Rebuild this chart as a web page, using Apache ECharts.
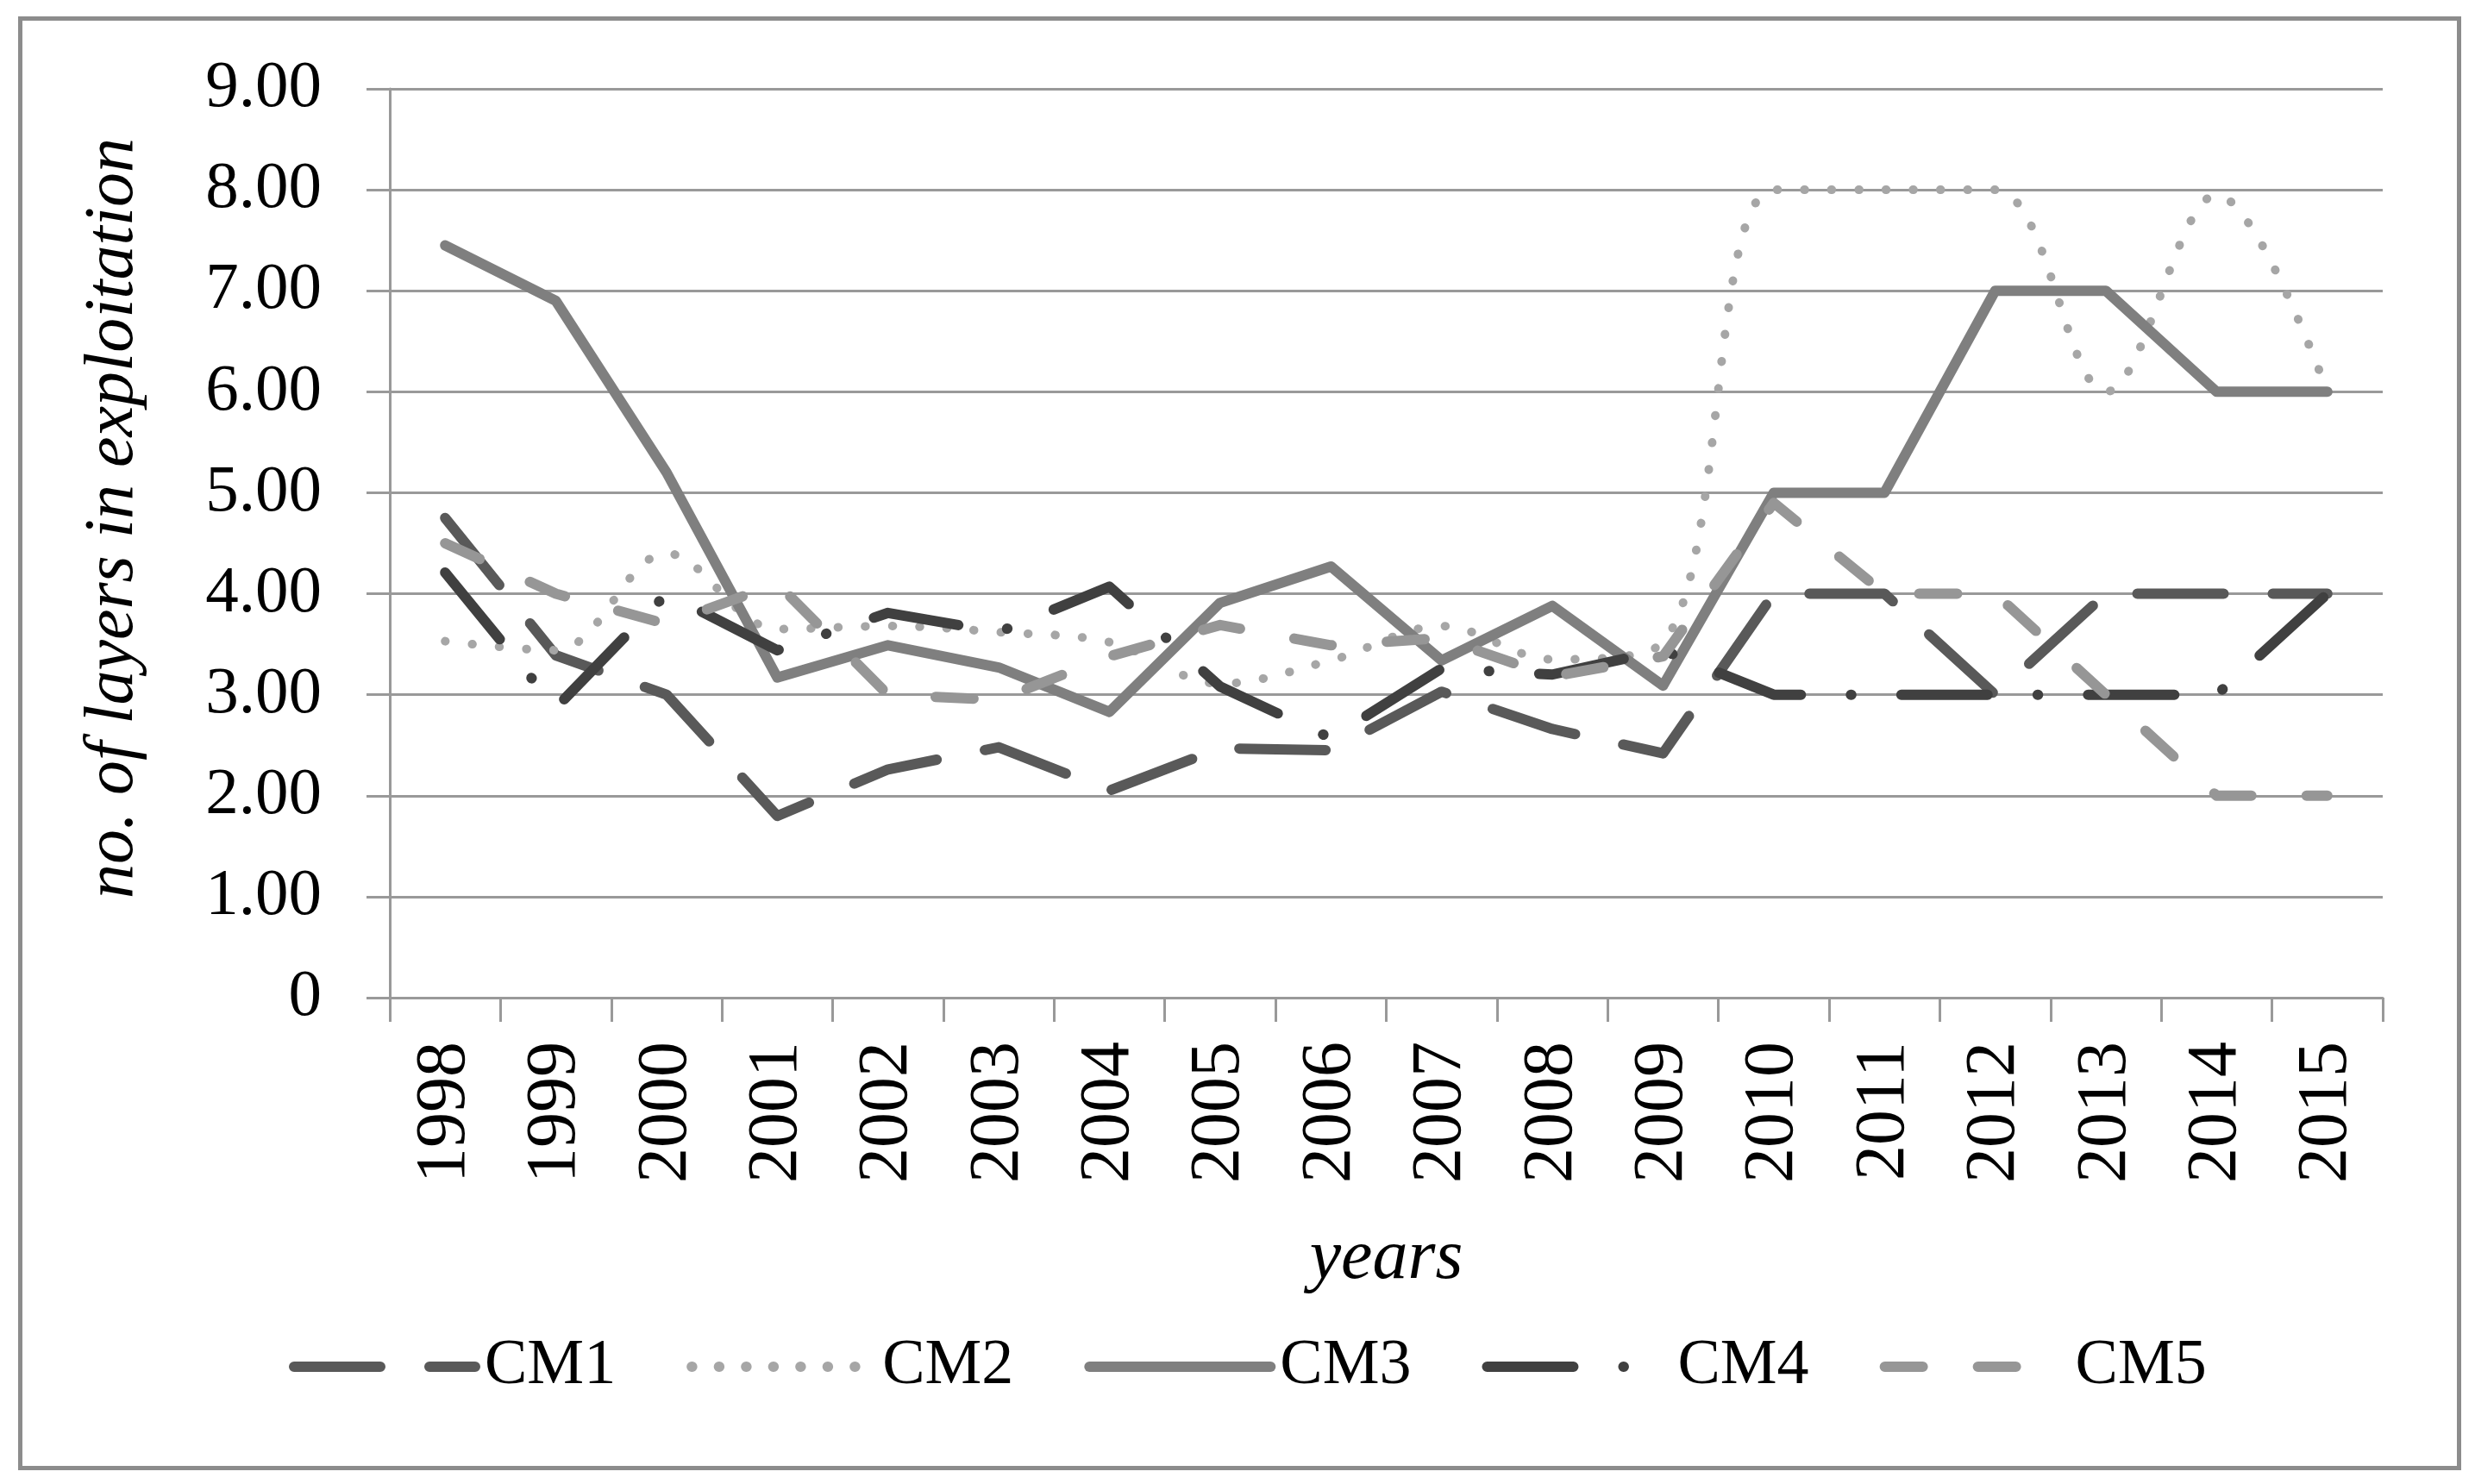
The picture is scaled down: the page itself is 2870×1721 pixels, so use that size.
<!DOCTYPE html>
<html>
<head>
<meta charset="utf-8">
<script src="https://cdn.jsdelivr.net/npm/echarts@6/dist/echarts.min.js"></script>
<style>
html,body{margin:0;padding:0;background:#fff;}
#chart{width:2870px;height:1721px;}
</style>
</head>
<body>
<div id="chart"></div>
<script>
const years = ['1998','1999','2000','2001','2002','2003','2004','2005','2006','2007','2008','2009','2010','2011','2012','2013','2014','2015'];
const cm1 = [4.75, 3.39, 3.00, 1.80, 2.26, 2.48, 2.05, 2.47, 2.45, 3.03, 2.66, 2.42, 4.00, 4.00, 3.00, 4.00, 4.00, 4.00];
const cm2 = [3.53, 3.44, 4.40, 3.65, 3.68, 3.62, 3.52, 3.11, 3.34, 3.68, 3.35, 3.52, 8.00, 8.00, 8.00, 6.00, 7.95, 6.00];
const cm3 = [7.45, 6.90, 5.20, 3.17, 3.49, 3.27, 2.83, 3.91, 4.27, 3.34, 3.88, 3.09, 5.00, 5.00, 7.00, 7.00, 6.00, 6.00];
const cm4 = [4.21, 2.87, 4.00, 3.44, 3.81, 3.62, 4.07, 3.08, 2.57, 3.26, 3.20, 3.44, 3.00, 3.00, 3.00, 3.00, 3.00, 4.00];
const cm5 = [4.50, 4.00, 3.70, 4.10, 3.00, 2.95, 3.38, 3.69, 3.49, 3.56, 3.18, 3.38, 4.90, 4.00, 4.00, 3.00, 2.00, 2.00];
const yTickLabels = ['0','1.00','2.00','3.00','4.00','5.00','6.00','7.00','8.00','9.00'];
const seriesNames = ['CM1','CM2','CM3','CM4','CM5'];

const FONT = '"Liberation Serif", "DejaVu Serif", serif';
const chart = echarts.init(document.getElementById('chart'), null, {renderer:'canvas'});

function mk(name, data, color, width, dash, smooth) {
  return {
    name: name, type: 'line', data: data, symbol: 'none', smooth: smooth || false,
    lineStyle: { color: color, width: width, type: dash, cap: 'round', join: 'round' },
    itemStyle: { color: color },
    emphasis: { disabled: true },
    animation: false
  };
}

chart.setOption({
  backgroundColor: '#ffffff',
  animation: false,
  graphic: [{
    type: 'rect', left: 21, top: 19, z: -1,
    shape: { width: 2828, height: 1681 },
    style: { fill: 'none', stroke: '#8c8c8c', lineWidth: 5 }
  }],
  grid: { left: 452, right: 107, top: 103, bottom: 564, containLabel: false },
  legend: {
    left: 330, top: 1543,
    itemWidth: 210, itemHeight: 28, itemGap: 82,
    data: seriesNames,
    itemStyle: { opacity: 0 },
    lineStyle: { width: 12, cap: 'round' },
    textStyle: { fontFamily: FONT, fontSize: 74, color: '#000', padding: [0,0,0,6] },
    selectedMode: false
  },
  xAxis: {
    type: 'category', data: years, boundaryGap: true,
    name: 'years', nameLocation: 'middle', nameGap: 262,
    nameTextStyle: { fontFamily: FONT, fontSize: 82, fontStyle: 'italic', color: '#000' },
    axisLine: { show: true, lineStyle: { color: '#999999', width: 3 } },
    axisTick: { show: true, alignWithLabel: false, length: 28, lineStyle: { color: '#999999', width: 3 } },
    axisLabel: { rotate: 90, margin: 51, fontFamily: FONT, fontSize: 82, color: '#000', interval: 0 },
    splitLine: { show: false }
  },
  yAxis: {
    type: 'value', min: 0, max: 9, interval: 1,
    name: 'no. of layers in exploitation', nameLocation: 'middle', nameGap: 280,
    nameTextStyle: { fontFamily: FONT, fontSize: 80, fontStyle: 'italic', color: '#000', padding: [0,0,0,58] },
    axisLine: { show: true, lineStyle: { color: '#999999', width: 3 } },
    axisTick: { show: true, length: 27, lineStyle: { color: '#999999', width: 3 } },
    axisLabel: { margin: 79, fontFamily: FONT, fontSize: 77, color: '#000',
      formatter: function (v) { return yTickLabels[Math.round(v)]; } },
    splitLine: { show: true, lineStyle: { color: '#999999', width: 3 } }
  },
  series: [
    mk('CM1', cm1, '#595959', 12, [100, 57]),
    mk('CM2', cm2, '#a6a6a6', 10, [0.5, 31], 0.35),
    mk('CM3', cm3, '#7f7f7f', 12, 'solid'),
    mk('CM4', cm4, '#404040', 12, [100, 58, 0.5, 58]),
    mk('CM5', cm5, '#969696', 12, [44, 64])
  ]
});
</script>
</body>
</html>
